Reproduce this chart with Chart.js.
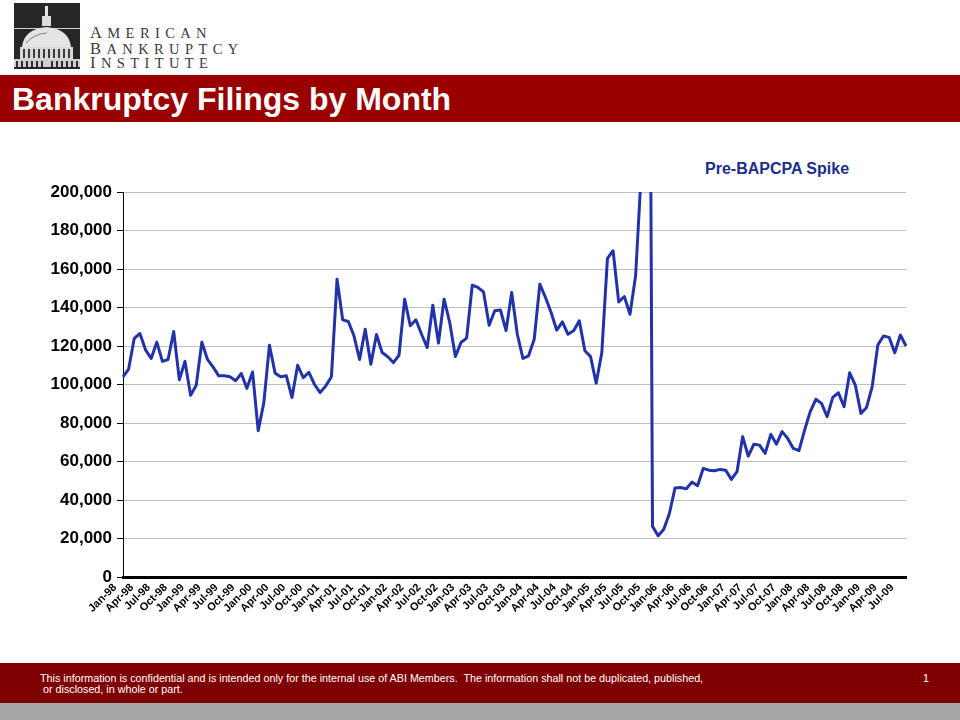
<!DOCTYPE html>
<html>
<head>
<meta charset="utf-8">
<script src="https://cdn.jsdelivr.net/npm/chart.js@4.4.1/dist/chart.umd.min.js"></script>
<style>
html,body{margin:0;padding:0;background:#fff;}
#page{position:relative;width:960px;height:720px;overflow:hidden;background:#fff;font-family:"Liberation Sans",Arial,sans-serif;}
#logo{position:absolute;left:14px;top:3px;width:66px;height:66px;}
.abi{position:absolute;left:90px;font-family:"Liberation Serif","Times New Roman",serif;color:#3a3a3a;font-size:14.5px;letter-spacing:5.4px;line-height:16px;white-space:nowrap;}
.abi .f{font-size:16.5px;}
#banner{position:absolute;left:0;top:75px;width:960px;height:47px;background:#990000;}
#title{position:absolute;left:12px;top:83px;color:#fff;font-weight:bold;font-size:32px;line-height:32px;white-space:nowrap;}
#spike{position:absolute;left:705px;top:161px;color:#1C2E8C;font-weight:bold;font-size:16px;line-height:16px;white-space:nowrap;}
#foot{position:absolute;left:0;top:663px;width:960px;height:40px;background:#7F0000;}
#gray{position:absolute;left:0;top:703px;width:960px;height:17px;background:#A6A6A6;}
.ft{position:absolute;color:#fff;font-size:10.75px;line-height:11px;white-space:pre;}
#chartbox{position:absolute;left:0;top:0;width:960px;height:720px;}
</style>
</head>
<body>
<div id="page">
  <svg id="logo" viewBox="0 0 66 66" width="66" height="66">
    <rect width="66" height="66" fill="#262626"/>
    <line x1="0" y1="25.5" x2="66" y2="25.5" stroke="#cfcfcf" stroke-width="1"/>
    <rect x="31" y="3" width="3" height="10" fill="#e6e6e6"/>
    <rect x="28" y="13" width="9" height="10" fill="#dcdcdc"/>
    <path d="M8 44 Q10 26 32.5 24 Q55 26 57 44 Z" fill="#e4e4e4"/>
    <path d="M12 40 Q20 31 32.5 30" stroke="#7a7a7a" stroke-width="1" fill="none"/>
    <rect x="6" y="44" width="53" height="12" fill="#d8d8d8"/>
    <g fill="#3a3a3a">
      <rect x="9" y="46" width="2" height="9"/><rect x="14" y="46" width="2" height="9"/>
      <rect x="19" y="46" width="2" height="9"/><rect x="24" y="46" width="2" height="9"/>
      <rect x="29" y="46" width="2" height="9"/><rect x="34" y="46" width="2" height="9"/>
      <rect x="39" y="46" width="2" height="9"/><rect x="44" y="46" width="2" height="9"/>
      <rect x="49" y="46" width="2" height="9"/><rect x="54" y="46" width="2" height="9"/>
    </g>
    <rect x="0" y="56" width="66" height="8" fill="#cfcfcf"/>
    <g fill="#2e2e2e">
      <rect x="2" y="58" width="2" height="6"/><rect x="7" y="58" width="2" height="6"/>
      <rect x="12" y="58" width="2" height="6"/><rect x="17" y="58" width="2" height="6"/>
      <rect x="22" y="58" width="2" height="6"/><rect x="27" y="58" width="2" height="6"/>
      <rect x="37" y="58" width="2" height="6"/><rect x="42" y="58" width="2" height="6"/>
      <rect x="47" y="58" width="2" height="6"/><rect x="52" y="58" width="2" height="6"/>
      <rect x="57" y="58" width="2" height="6"/><rect x="62" y="58" width="2" height="6"/>
    </g>
  </svg>
  <div class="abi" style="top:25px;"><span class="f">A</span>MERICAN</div>
  <div class="abi" style="top:41px;"><span class="f">B</span>ANKRUPTCY</div>
  <div class="abi" style="top:55px;"><span class="f">I</span>NSTITUTE</div>
  <div id="banner"></div>
  <div id="title">Bankruptcy Filings by Month</div>
  <div id="spike">Pre-BAPCPA Spike</div>
  <div id="chartbox"><canvas id="c"></canvas></div>
  <div id="foot"></div>
  <div id="gray"></div>
  <div class="ft" style="left:40px;top:673px;">This information is confidential and is intended only for the internal use of ABI Members.  The information shall not be duplicated, published,
 or disclosed, in whole or part.</div>
  <div class="ft" style="left:923px;top:673px;">1</div>
</div>
<script>
// Categories (months, Jan-98 .. Aug-09)
const months = [
  "Jan-98","Feb-98","Mar-98","Apr-98","May-98","Jun-98","Jul-98","Aug-98","Sep-98","Oct-98","Nov-98","Dec-98",
  "Jan-99","Feb-99","Mar-99","Apr-99","May-99","Jun-99","Jul-99","Aug-99","Sep-99","Oct-99","Nov-99","Dec-99",
  "Jan-00","Feb-00","Mar-00","Apr-00","May-00","Jun-00","Jul-00","Aug-00","Sep-00","Oct-00","Nov-00","Dec-00",
  "Jan-01","Feb-01","Mar-01","Apr-01","May-01","Jun-01","Jul-01","Aug-01","Sep-01","Oct-01","Nov-01","Dec-01",
  "Jan-02","Feb-02","Mar-02","Apr-02","May-02","Jun-02","Jul-02","Aug-02","Sep-02","Oct-02","Nov-02","Dec-02",
  "Jan-03","Feb-03","Mar-03","Apr-03","May-03","Jun-03","Jul-03","Aug-03","Sep-03","Oct-03","Nov-03","Dec-03",
  "Jan-04","Feb-04","Mar-04","Apr-04","May-04","Jun-04","Jul-04","Aug-04","Sep-04","Oct-04","Nov-04","Dec-04",
  "Jan-05","Feb-05","Mar-05","Apr-05","May-05","Jun-05","Jul-05","Aug-05","Sep-05","Oct-05","Nov-05","Dec-05",
  "Jan-06","Feb-06","Mar-06","Apr-06","May-06","Jun-06","Jul-06","Aug-06","Sep-06","Oct-06","Nov-06","Dec-06",
  "Jan-07","Feb-07","Mar-07","Apr-07","May-07","Jun-07","Jul-07","Aug-07","Sep-07","Oct-07","Nov-07","Dec-07",
  "Jan-08","Feb-08","Mar-08","Apr-08","May-08","Jun-08","Jul-08","Aug-08","Sep-08","Oct-08","Nov-08","Dec-08",
  "Jan-09","Feb-09","Mar-09","Apr-09","May-09","Jun-09","Jul-09","Aug-09"
];

// Monthly bankruptcy filings
const filings = [
  104000,108000,124000,126500,118000,113500,122000,112000,113000,127500,102500,112000,
  94400,99600,122000,113000,109000,104500,104500,104000,102000,105700,98000,106500,
  76000,90600,120400,105900,104000,104500,93200,110000,103600,106300,100000,95800,
  99300,104000,154700,133600,132700,125300,113000,128700,110500,126000,116600,114400,
  111400,115200,144300,130500,133600,126100,119200,141200,121500,144300,132200,114500,
  121800,124100,151600,150400,148100,130800,138300,138700,128000,147800,126100,113500,
  114900,123500,152100,145200,137400,128200,132500,126100,127900,133100,117500,114500,
  100700,116600,165500,169500,142900,145700,136500,156500,210000,630000,26300,21400,
  24800,33000,46300,46500,45800,49300,47400,56400,55500,55200,55900,55500,
  50700,54700,72900,62800,69000,68500,64200,74100,69000,75500,72000,66800,
  65600,76300,85900,92300,90200,83300,93300,95700,88500,106100,99700,85000,
  88100,98900,120500,125200,124500,116500,125700,120000
];

// Axis settings
const yMin = 0, yMax = 200000, yStep = 20000;
const labelEvery = 3;

const FONT = '"Liberation Sans", Arial, sans-serif';

new Chart(document.getElementById('c'), {
  type: 'line',
  data: {
    labels: months,
    datasets: [{
      data: filings,
      borderColor: '#2233AA',
      borderWidth: 3,
      pointRadius: 0,
      pointHoverRadius: 0,
      tension: 0,
      fill: false,
      borderJoinStyle: 'round'
    }]
  },
  options: {
    responsive: true,
    maintainAspectRatio: false,
    animation: false,
    events: [],
    layout: { padding: { left: 0, right: 54, top: 192, bottom: 0 } },
    plugins: { legend: { display: false }, tooltip: { enabled: false }, title: { display: false } },
    scales: {
      x: {
        offset: false,
        grid: { display: false, drawTicks: false },
        border: { display: true, color: '#000', width: 3 },
        ticks: {
          autoSkip: false,
          maxRotation: 45,
          minRotation: 45,
          padding: 4,
          labelOffset: -8,
          color: '#000',
          font: { family: FONT, size: 11, weight: 'bold' },
          callback: function (v, i) { return i % labelEvery === 0 ? this.getLabelForValue(v) : ''; }
        },
        afterFit: function (s) { s.height = 143; }
      },
      y: {
        min: yMin,
        max: yMax,
        ticks: {
          stepSize: yStep,
          color: '#000',
          padding: 5,
          font: { family: FONT, size: 17, weight: 'bold' },
          callback: function (v) { return v.toLocaleString('en-US'); }
        },
        grid: { color: '#BFBFBF', tickColor: '#000', tickLength: 6, lineWidth: 1 },
        border: { display: true, color: '#000', width: 1 },
        afterFit: function (s) { s.width = 123; }
      }
    }
  }
});
</script>
</body>
</html>
